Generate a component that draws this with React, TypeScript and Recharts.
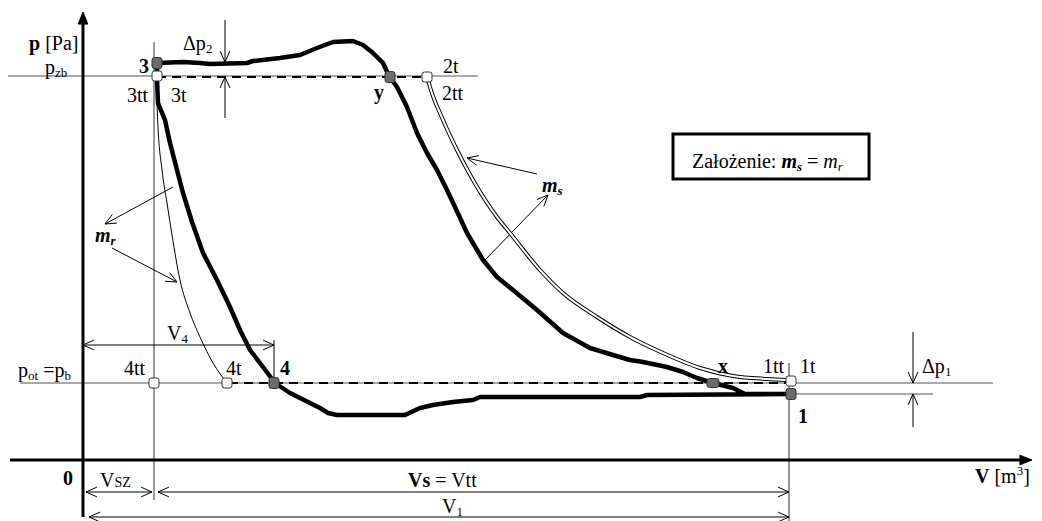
import React from 'react';
import { ComposedChart, XAxis, YAxis, Line, Scatter, ReferenceLine, ReferenceArea } from 'recharts';

const W = 1042;
const H = 521;
const FONT = "'Liberation Serif', 'Times New Roman', serif";

// Real (indicated) cycle, V vs p, in diagram units (origin at 0)
const realCycle: [number, number][] = [
  [74, 397], [100, 398], [117, 397], [127, 396], [164, 397], [170, 399], [197, 402], [217, 405],
  [234, 412], [250, 418], [270, 419], [280, 415], [290, 407], [300, 397], [306, 384], [314, 373],
  [324, 353], [334, 327], [344, 307], [354, 290], [364, 270], [372, 253], [384, 227], [400, 200],
  [414, 183], [430, 170], [454, 150], [480, 127], [507, 112], [530, 105], [547, 100], [560, 98],
  [584, 93], [600, 88], [614, 82], [630, 77], [650, 72], [662, 66], [706, 66],
  [564, 65], [557, 63], [397, 63], [390, 60], [370, 58], [350, 55], [337, 52], [322, 45],
  [254, 45], [245, 47], [237, 52], [227, 57], [207, 67], [192, 77], [180, 93], [167, 110],
  [157, 130], [147, 153], [134, 180], [120, 207], [109, 238], [100, 267], [94, 290], [87, 317],
  [82, 340], [75, 357], [74, 380], [74, 397],
];

// Theoretical re-expansion curve m_r (3tt -> 4t)
const reexpansion: [number, number][] = [
  [73, 382], [75, 333], [79, 290], [84, 257], [89, 225], [97, 180], [107, 147], [117, 123],
  [130, 97], [144, 77],
];

// Theoretical compression curve m_s (1t -> 2t)
const compression: [number, number][] = [
  [344, 384], [347, 373], [360, 340], [374, 310], [390, 280], [414, 243], [427, 227], [457, 190],
  [480, 167], [514, 143], [547, 123], [580, 107], [617, 92], [650, 84], [684, 81], [704, 80],
];

// Pressure levels
const pZb = 384;
const pOt = 77;
const p1 = 66;

// Characteristic points
const filledPoints: [number, number][] = [[74, 397], [307, 383], [191, 77], [708, 66]];
const pointX: [number, number][] = [[630, 77]];
const openPoints: [number, number][] = [[74, 384], [344, 383], [71, 77], [144, 77], [708, 79]];

type Arrow = 'none' | 'open' | 'filled';
type Seg = { from: [number, number]; to: [number, number]; start: Arrow; end: Arrow; kind: string };

// Thin guide lines / dimension lines / pointers
const segments: Seg[] = [
  { from: [-75, pZb], to: [395, pZb], start: 'none', end: 'none', kind: 'guide' },
  { from: [-63, pOt], to: [910, pOt], start: 'none', end: 'none', kind: 'guide' },
  { from: [706, p1], to: [850, p1], start: 'none', end: 'none', kind: 'guide' },
  { from: [71, 418], to: [71, -40], start: 'none', end: 'none', kind: 'guide' },
  { from: [706, 97], to: [706, -61], start: 'none', end: 'none', kind: 'guide' },
  { from: [191, 120], to: [191, 77], start: 'none', end: 'none', kind: 'dim' },
  { from: [0, 115], to: [191, 115], start: 'open', end: 'open', kind: 'dim' },
  { from: [3, -32], to: [69, -32], start: 'open', end: 'open', kind: 'dim' },
  { from: [75, -32], to: [706, -32], start: 'open', end: 'open', kind: 'dim' },
  { from: [6, -57], to: [706, -57], start: 'open', end: 'open', kind: 'dim' },
  { from: [142, 440], to: [142, 398], start: 'none', end: 'open', kind: 'dim' },
  { from: [142, 342], to: [142, 383], start: 'none', end: 'open', kind: 'dim' },
  { from: [830, 128], to: [830, 77], start: 'none', end: 'open', kind: 'dim' },
  { from: [830, 33], to: [830, 66], start: 'none', end: 'open', kind: 'dim' },
  { from: [90, 273], to: [22, 236], start: 'none', end: 'open', kind: 'dim' },
  { from: [29, 212], to: [94, 178], start: 'none', end: 'open', kind: 'dim' },
  { from: [454, 286], to: [384, 302], start: 'none', end: 'open', kind: 'dim' },
  { from: [402, 200], to: [465, 265], start: 'none', end: 'open', kind: 'dim' },
  { from: [0, -57], to: [0, 448], start: 'none', end: 'filled', kind: 'axis' },
  { from: [-73, 0], to: [949, 0], start: 'none', end: 'filled', kind: 'axis' },
];

const dashed: [[number, number], [number, number]][] = [
  [[74, 383], [344, 383]],
  [[146, 77], [706, 77]],
];

type Part = { t: string; b?: boolean; i?: boolean; sub?: boolean; sup?: boolean; sc?: boolean };
type Lbl = { v: number; p: number; parts: Part[] };

const labels: Lbl[] = [
  { v: -54, p: 410, parts: [{ t: 'p', b: true }, { t: ' [Pa]' }] },
  { v: -38, p: 386, parts: [{ t: 'p' }, { t: 'zb', sub: true }] },
  { v: 56, p: 387, parts: [{ t: '3', b: true }] },
  { v: 44, p: 358, parts: [{ t: '3tt' }] },
  { v: 88, p: 358, parts: [{ t: '3t' }] },
  { v: 100, p: 410, parts: [{ t: 'Δp' }, { t: '2', sub: true }] },
  { v: 291, p: 361, parts: [{ t: 'y', b: true }] },
  { v: 360, p: 387, parts: [{ t: '2t' }] },
  { v: 359, p: 360, parts: [{ t: '2tt' }] },
  { v: 12, p: 218, parts: [{ t: 'm', b: true, i: true }, { t: 'r', b: true, i: true, sub: true }] },
  { v: 459, p: 268, parts: [{ t: 'm', b: true, i: true }, { t: 's', b: true, i: true, sub: true }] },
  {
    v: 609, p: 292, parts: [
      { t: 'Założenie: ' }, { t: 'm', b: true, i: true }, { t: 's', b: true, i: true, sub: true },
      { t: ' = ' }, { t: 'm', i: true }, { t: 'r', i: true, sub: true },
    ],
  },
  { v: 84, p: 120, parts: [{ t: 'V' }, { t: '4', sub: true }] },
  { v: -65, p: 83, parts: [{ t: 'p' }, { t: 'ot', sub: true }, { t: ' =p' }, { t: 'b', sub: true }] },
  { v: 41, p: 85, parts: [{ t: '4tt' }] },
  { v: 143, p: 85, parts: [{ t: '4t' }] },
  { v: 197, p: 85, parts: [{ t: '4', b: true }] },
  { v: 635, p: 87, parts: [{ t: 'x', b: true }] },
  { v: 680, p: 87, parts: [{ t: '1tt' }] },
  { v: 717, p: 87, parts: [{ t: '1t' }] },
  { v: 839, p: 87, parts: [{ t: 'Δp' }, { t: '1', sub: true }] },
  { v: 715, p: 37, parts: [{ t: '1', b: true }] },
  { v: -20, p: -25, parts: [{ t: '0', b: true }] },
  { v: 17, p: -27, parts: [{ t: 'V' }, { t: 'sz', sc: true }] },
  { v: 325, p: -27, parts: [{ t: 'Vs', b: true }, { t: ' = Vtt' }] },
  { v: 359, p: -53, parts: [{ t: 'V' }, { t: '1', sub: true }] },
  { v: 892, p: -23, parts: [{ t: 'V', b: true }, { t: ' [m' }, { t: '3', sup: true }, { t: ']' }] },
];

const toPts = (arr: [number, number][]) => arr.map(([v, p]) => ({ v, p }));

const segStyle: Record<string, { stroke: string; width: number }> = {
  guide: { stroke: '#555', width: 1.2 },
  dim: { stroke: '#000', width: 1 },
  axis: { stroke: '#000', width: 3 },
};

function makeSegShape(s: Seg) {
  return (props: any) => {
    const { x1, y1, x2, y2 } = props;
    const st = segStyle[s.kind];
    const heads: React.ReactNode[] = [];
    const head = (tx: number, ty: number, fx: number, fy: number, kind: Arrow, k: string) => {
      if (kind === 'none') return;
      const ang = Math.atan2(ty - fy, tx - fx);
      const len = kind === 'filled' ? 13 : 12;
      const spread = kind === 'filled' ? 0.38 : 0.42;
      const ax = tx - len * Math.cos(ang - spread);
      const ay = ty - len * Math.sin(ang - spread);
      const bx = tx - len * Math.cos(ang + spread);
      const by = ty - len * Math.sin(ang + spread);
      if (kind === 'filled') {
        heads.push(<path key={k} d={`M${tx},${ty} L${ax},${ay} L${bx},${by} Z`} fill="#000" stroke="#000" strokeWidth={1} />);
      } else {
        heads.push(<path key={k} d={`M${ax},${ay} L${tx},${ty} L${bx},${by}`} fill="none" stroke={st.stroke} strokeWidth={1} />);
      }
    };
    head(x2, y2, x1, y1, s.end, 'e');
    head(x1, y1, x2, y2, s.start, 's');
    let lx2 = x2, ly2 = y2;
    if (s.end === 'filled') {
      const ang = Math.atan2(y2 - y1, x2 - x1);
      lx2 = x2 - 8 * Math.cos(ang);
      ly2 = y2 - 8 * Math.sin(ang);
    }
    return (
      <g>
        <line x1={x1} y1={y1} x2={lx2} y2={ly2} stroke={st.stroke} strokeWidth={st.width} />
        {heads}
      </g>
    );
  };
}

function TextShape(props: any) {
  const { cx, cy, payload } = props;
  if (cx == null || cy == null) return null;
  let off = 0;
  const spans = (payload.parts as Part[]).map((pt, i) => {
    const target = pt.sub ? 3 : pt.sup ? -8 : 0;
    const dy = target - off;
    off = target;
    return (
      <tspan
        key={i}
        dy={dy}
        fontSize={pt.sub || pt.sup ? 13 : 20}
        fontWeight={pt.b ? 'bold' : 'normal'}
        fontStyle={pt.i ? 'italic' : 'normal'}
        style={pt.sc ? { fontVariant: 'small-caps' } : undefined}
      >
        {pt.t}
      </tspan>
    );
  });
  return (
    <text x={cx} y={cy} fontFamily={FONT} fontSize={20} fill="#000" xmlSpace="preserve" style={{ whiteSpace: 'pre' }}>
      {spans}
    </text>
  );
}

const squareShape = (fill: string, stroke: string, w: number, h: number) => (props: any) => {
  const { cx, cy } = props;
  if (cx == null || cy == null) return null;
  return <rect x={cx - w / 2} y={cy - h / 2} width={w} height={h} rx={2.5} fill={fill} stroke={stroke} strokeWidth={1} />;
};

export default function App() {
  return (
    <div style={{ position: 'absolute', left: 0, top: 0, width: W, height: H, background: '#fff' }}>
      <ComposedChart width={W} height={H} margin={{ top: 0, right: 0, bottom: 0, left: 0 }}>
        <XAxis type="number" dataKey="v" domain={[-83, 959]} allowDataOverflow hide />
        <YAxis type="number" dataKey="p" domain={[-61, 460]} allowDataOverflow hide />

        <ReferenceArea x1={590} x2={786} y1={281} y2={326} fill="#fff" fillOpacity={1} stroke="#000" strokeWidth={3} ifOverflow="visible" />

        {segments.map((s, i) => (
          <ReferenceLine
            key={'s' + i}
            segment={[{ x: s.from[0], y: s.from[1] }, { x: s.to[0], y: s.to[1] }]}
            ifOverflow="visible"
            shape={makeSegShape(s)}
          />
        ))}

        {dashed.map((d, i) => (
          <ReferenceLine
            key={'d' + i}
            segment={[{ x: d[0][0], y: d[0][1] }, { x: d[1][0], y: d[1][1] }]}
            ifOverflow="visible"
            stroke="#000"
            strokeWidth={2}
            strokeDasharray="9 6"
          />
        ))}

        <Line data={toPts(reexpansion)} dataKey="p" type="monotone" stroke="#000" strokeWidth={1} dot={false} isAnimationActive={false} />
        <Line data={toPts(compression)} dataKey="p" type="monotone" stroke="#000" strokeWidth={4} dot={false} isAnimationActive={false} />
        <Line data={toPts(compression)} dataKey="p" type="monotone" stroke="#fff" strokeWidth={2} dot={false} isAnimationActive={false} />
        <Line data={toPts(realCycle)} dataKey="p" type="linear" stroke="#000" strokeWidth={4.5} strokeLinejoin="round" dot={false} isAnimationActive={false} />

        <Scatter data={toPts(filledPoints)} shape={squareShape('#6b6b6b', '#333', 10, 11)} isAnimationActive={false} />
        <Scatter data={toPts(pointX)} shape={squareShape('#6b6b6b', '#333', 12, 9)} isAnimationActive={false} />
        <Scatter data={toPts(openPoints)} shape={squareShape('#fff', '#333', 10, 10)} isAnimationActive={false} />

        <Scatter data={labels} shape={TextShape} isAnimationActive={false} />
      </ComposedChart>
    </div>
  );
}
